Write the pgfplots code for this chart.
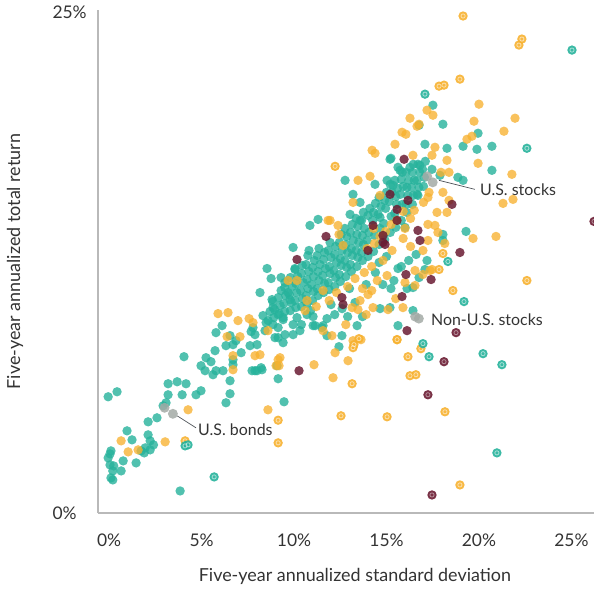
\documentclass[border=0pt]{standalone}
\usepackage{pgfplots}
\pgfplotsset{compat=1.18}
\usepackage{pgfplotstable}
\usepackage{fontspec}
\setmainfont{Lato}
\definecolor{tealc}{RGB}{38,178,155}
\definecolor{orangec}{RGB}{247,177,47}
\definecolor{maroonc}{RGB}{106,27,50}
\definecolor{grayc}{RGB}{163,170,166}
\definecolor{axisc}{RGB}{185,185,185}
\definecolor{textc}{RGB}{51,51,51}
\definecolor{linec}{RGB}{80,85,90}

\pgfplotstableread{
x y
-0.05 5.8
0.43 6.05
3.19 6.45
3.68 6.55
4.16 6.45
3.95 5.9
3.19 5.9
3.08 5.5
2.92 5.35
4.97 6.1
4.70 5.9
6.54 6.6
6.54 5.95
6.32 5.5
9.46 5.55
9.14 6.7
2.59 4.75
2.11 4.55
0.97 4.1
1.24 3.65
2.11 3.9
2.22 3.6
1.95 3.25
2.22 3.15
1.73 3.1
0.10 3.1
-0.05 2.75
0.05 2.4
0.20 2.1
0.10 1.75
0.65 2.1
0.76 2.6
1.46 2.5
3.84 1.1
0.20 1.65
0.25 2.35
0.05 2.95
1.90 3.0
2.40 3.4
4.05 7.8
5.24 7.75
5.51 7.55
4.97 7.35
5.19 7.1
5.73 8.1
5.78 7.1
6.16 7.1
5.62 6.9
5.78 9.0
6.11 9.35
6.32 8.35
6.54 8.85
6.70 8.4
6.70 7.4
7.14 8.0
6.86 8.6
7.62 8.35
7.68 9.05
7.78 9.25
7.89 7.1
8.22 7.25
8.16 11.0
8.54 12.2
8.76 11.7
8.81 10.65
8.32 9.85
8.49 9.5
8.86 10.25
9.14 9.9
9.41 9.65
9.30 11.75
9.51 11.5
9.68 11.0
9.78 10.65
9.95 13.25
10.05 12.15
9.14 8.75
8.97 8.75
6.70 7.65
7.73 7.1
8.27 7.15
9.08 7.35
8.00 7.1
8.43 9.1
7.89 8.9
8.00 8.4
8.86 9.4
9.14 9.25
9.41 9.75
9.95 8.9
10.32 9.1
10.16 9.75
10.70 9.9
11.14 9.35
11.51 9.25
11.78 9.7
11.03 9.8
11.03 9.35
11.57 9.35
11.78 8.85
9.95 9.4
9.51 8.9
9.41 8.5
13.41 9.35
12.59 8.85
12.43 8.3
10.86 14.35
11.30 14.65
13.03 14.9
13.57 14.6
12.76 16.6
14.38 16.4
15.03 16.6
15.35 16.35
13.19 15.9
13.57 15.5
16.65 15.9
14.65 14.75
16.00 14.25
18.05 13.6
10.81 13.1
19.30 14.05
18.05 13.9
17.08 12.15
16.76 11.75
16.43 11.25
15.24 11.2
15.19 10.25
16.43 10.1
14.65 10.2
15.62 9.35
15.62 12.2
17.19 12.6
16.11 11.2
17.51 20.35
18.05 19.4
16.76 19.35
19.95 18.95
19.14 18.3
19.89 18.15
20.70 18.3
20.70 17.1
18.27 18.2
17.08 18.4
15.24 17.7
15.62 17.25
15.73 17.1
16.27 17.25
16.81 17.35
17.46 17.15
17.89 16.85
18.86 16.75
19.14 16.6
15.19 17.65
13.30 10.50
13.90 11.40
14.40 12.00
14.80 11.40
15.40 11.60
15.80 12.30
16.20 12.60
16.60 12.90
15.00 12.80
14.60 12.50
13.00 11.20
12.60 10.20
12.20 9.90
12.90 9.80
13.70 9.80
10.40 9.40
10.90 10.10
12.00 10.40
8.6 9.6
8.7 10.05
8.9 9.75
8.95 10.15
8.85 10.55
9.2 9.95
9.25 10.35
9.15 10.75
9.3 11.1
9.5 10.05
9.45 10.45
9.55 10.85
9.5 11.25
9.8 10.1
9.85 10.5
9.75 10.9
9.9 11.3
9.8 11.75
10.1 10.25
10.05 10.6
10.15 11.0
10.1 11.45
10.2 11.8
10.05 12.2
10.4 10.3
10.45 10.7
10.35 11.1
10.5 11.5
10.4 11.95
10.45 12.35
10.7 10.45
10.65 10.85
10.75 11.2
10.7 11.65
10.8 12.05
10.65 12.4
10.75 12.85
11.0 10.6
11.05 11.05
10.95 11.4
11.05 11.8
11.0 12.25
11.1 12.6
11.3 10.85
11.25 11.2
11.35 11.6
11.3 12.05
11.4 12.4
11.25 12.85
11.35 13.2
11.6 11.0
11.65 11.45
11.55 11.85
11.7 12.2
11.6 12.65
11.65 13.0
11.9 11.15
11.85 11.5
11.95 11.95
11.9 12.3
12.0 12.75
11.85 13.1
11.95 13.5
12.2 11.3
12.25 11.75
12.15 12.1
12.3 12.5
12.2 12.9
12.25 13.3
12.5 11.55
12.45 11.9
12.55 12.35
12.5 12.7
12.6 13.1
12.45 13.5
12.55 13.9
12.8 11.8
12.85 12.25
12.75 12.6
12.9 13.0
12.8 13.4
12.85 13.8
12.75 14.2
13.1 12.05
13.05 12.4
13.15 12.85
13.1 13.2
13.2 13.6
13.05 14.0
13.15 14.4
13.4 12.3
13.45 12.75
13.35 13.1
13.5 13.5
13.4 13.9
13.45 14.3
13.35 14.7
13.7 12.6
13.65 13.0
13.75 13.4
13.7 13.85
13.8 14.2
13.65 14.6
13.75 15.0
14.0 12.8
13.95 13.6
14.05 14.0
14.0 14.85
14.1 15.2
14.3 13.05
14.35 13.85
14.25 14.6
14.3 15.0
14.4 15.45
14.6 13.4
14.65 14.2
14.55 14.9
14.7 15.3
14.6 15.75
14.9 13.65
14.85 14.45
14.95 15.2
14.9 15.6
15.0 16.0
15.2 14.0
15.25 14.8
15.15 15.55
15.3 16.0
15.2 16.4
15.5 14.25
15.45 14.95
15.55 15.4
15.5 15.8
15.6 16.2
15.45 16.6
15.8 14.6
15.85 15.4
15.75 15.9
15.9 16.3
15.8 16.65
15.85 17.0
16.1 15.0
16.05 15.4
16.15 15.85
16.1 16.25
16.2 16.6
16.05 17.0
16.4 15.4
16.45 15.85
16.35 16.25
16.5 16.6
16.4 17.0
16.45 17.4
16.7 15.85
16.75 16.25
16.65 16.6
16.8 17.0
16.7 17.4
17.0 16.3
17.05 16.75
16.95 17.15
17.1 17.55
}\tealdata

\pgfplotstableread{
x y
4.27 5.15
3.03 3.55
0.65 3.6
1.03 3.05
1.57 3.15
8.59 5.15
9.19 7.35
11.08 7.4
9.14 7.65
5.89 9.95
6.43 10.0
6.97 9.6
7.57 9.7
7.78 9.5
7.08 8.8
6.38 8.8
6.70 7.85
6.70 7.15
7.89 7.85
8.16 7.9
8.59 9.1
9.24 7.75
9.03 7.35
9.68 11.6
11.84 14.6
17.19 20.1
17.51 19.85
16.27 19.7
16.65 19.3
16.76 19.4
15.84 19.0
16.05 18.9
15.46 18.4
17.62 18.25
17.46 17.85
14.22 18.1
14.38 17.95
16.43 17.85
17.95 17.0
13.46 16.6
14.11 16.8
14.65 15.85
13.19 15.5
17.24 15.75
18.05 16.0
17.73 15.0
17.24 14.4
11.95 14.6
12.38 14.35
12.43 13.9
12.65 13.35
17.24 13.6
17.78 14.0
20.00 20.4
19.73 19.55
21.95 19.7
21.35 19.05
19.35 18.65
19.62 18.8
19.95 17.45
21.78 16.9
18.27 17.6
18.38 17.0
21.30 15.45
21.84 15.65
19.68 13.7
20.92 13.8
18.38 15.6
18.27 15.0
17.62 14.35
16.97 13.1
17.35 12.1
15.89 10.25
15.08 10.15
14.81 12.6
15.03 11.85
16.54 12.1
16.54 11.35
17.46 12.15
18.15 13.45
16.97 11.9
14.27 10.25
11.57 9.1
10.16 11.6
11.57 11.1
10.70 10.6
13.14 10.25
13.46 10.15
13.57 10.6
12.22 8.0
12.92 7.6
12.11 6.75
12.05 8.85
13.19 8.6
13.62 8.65
15.57 8.65
13.95 13.2
14.35 13.45
14.30 14.2
14.65 13.8
14.95 14.05
15.25 14.4
15.55 14.6
15.90 15.05
16.30 14.7
16.00 14.2
16.50 15.1
17.00 15.5
17.30 16.0
10.60 10.1
11.20 10.3
11.90 10.6
12.30 11.0
12.90 11.3
13.30 11.7
13.80 12.0
14.20 12.3
13.70 11.2
14.50 11.6
14.00 10.9
14.20 11.10
15.50 10.70
16.00 11.50
16.30 13.30
15.30 13.10
15.90 13.70
13.90 9.90
12.80 9.40
}\orangedata

\pgfplotstableread{
x y
10.27 7.1
11.73 13.8
10.16 12.65
15.95 17.65
18.54 15.4
15.19 15.9
16.16 15.6
15.57 15.15
14.27 14.35
15.57 14.6
16.70 14.1
16.81 13.6
14.81 13.5
14.00 13.1
18.97 13.0
14.81 13.85
16.05 11.9
15.84 10.8
17.41 11.65
12.59 10.75
12.65 10.4
16.11 9.1
14.92 13.4
}\maroondata

\pgfplotstableread{
x y
19.14 24.8
22.32 23.65
22.16 23.35
18.97 21.65
17.84 21.3
18.11 21.35
12.22 17.3
22.59 11.6
18.59 11.1
17.84 12.15
18.05 12.95
13.51 8.7
13.24 8.4
13.19 8.25
15.57 8.65
16.16 7.8
16.86 8.2
16.27 6.85
16.59 6.9
13.14 6.45
12.54 4.85
15.03 4.8
18.16 5.05
18.97 1.4
9.14 4.63
9.14 3.5
4.11 3.6
}\orangering

\pgfplotstableread{
x y
4.11 3.35
4.27 3.4
5.68 1.8
25.03 23.1
22.59 18.2
17.08 20.9
18.32 12.55
19.19 10.55
16.97 8.45
17.30 7.8
20.22 7.95
21.24 7.4
20.97 3.0
}\tealring

\pgfplotstableread{
x y
26.22 14.55
18.76 9.0
18.11 7.55
17.24 5.9
17.46 0.9
}\maroonring

\pgfplotstableread{
x y
17.20 16.80
17.50 16.50
16.55 9.80
16.75 9.70
3.00 5.25
3.45 4.95
}\graydata

\begin{document}
\begin{tikzpicture}
\begin{axis}[
  scale only axis,
  width=496bp, height=503bp,
  xmin=-0.6, xmax=26.22,
  ymin=0, ymax=25.1,
  enlargelimits=false,
  axis lines=left,
  axis line style={-, draw=axisc, line width=1.1pt},
  major tick length=0pt,
  xtick={0,5,10,15,20,25},
  xticklabels={0\%,5\%,10\%,15\%,20\%,25\%},
  ytick={0,25},
  yticklabels={0\%,25\%},
  xticklabel style={font=\fontsize{17.5}{20}\selectfont, text=textc, anchor=base, yshift=-33bp},
  yticklabel style={font=\fontsize{17.5}{20}\selectfont, text=textc, anchor=west, xshift=-49bp},
  xlabel={Five-year annualized standard deviation},
  ylabel={Five-year annualized total return},
  xlabel style={font=\fontsize{18}{21}\selectfont, text=textc, at={(axis description cs:0.518,-0.127)}, anchor=center},
  ylabel style={font=\fontsize{18}{21}\selectfont, text=textc, at={(axis description cs:-0.167,0.5)}, anchor=center, rotate=0},
  every axis plot/.append style={only marks, mark=*, mark size=4.7pt},
]
% teal
\addplot[color=tealc, mark options={fill opacity=0.8, draw opacity=0}] table {\tealdata};
% orange
\addplot[color=orangec, mark options={fill opacity=0.78, draw opacity=0}] table {\orangedata};
% maroon
\addplot[color=maroonc, mark options={fill opacity=0.85, draw opacity=0}] table {\maroondata};
% ringed outliers
\addplot[color=orangec, mark options={fill opacity=0.9, draw opacity=0}] table {\orangering};
\addplot[mark=o, mark size=2.1pt, color=white, mark options={draw opacity=0.55}, line width=0.8pt] table {\orangering};
\addplot[color=tealc, mark options={fill opacity=0.9, draw opacity=0}] table {\tealring};
\addplot[mark=o, mark size=2.1pt, color=white, mark options={draw opacity=0.55}, line width=0.8pt] table {\tealring};
\addplot[color=maroonc, mark options={fill opacity=0.9, draw opacity=0}] table {\maroonring};
\addplot[mark=o, mark size=2.1pt, color=white, mark options={draw opacity=0.45}, line width=0.8pt] table {\maroonring};
% gray reference points
\addplot[color=grayc, mark size=5pt, mark options={fill opacity=0.85, draw opacity=0}] table {\graydata};
% annotations
\draw[linec, line width=0.7pt] (axis cs:17.84,16.6) -- (axis cs:19.78,16.15);
\draw[linec, line width=0.7pt] (axis cs:3.68,4.85) -- (axis cs:4.70,4.25);
\node[anchor=west, inner sep=0pt, font=\fontsize{16}{19}\selectfont, text=textc] at (axis cs:20.05,16.15) {U.S. stocks};
\node[anchor=west, inner sep=0pt, font=\fontsize{16}{19}\selectfont, text=textc] at (axis cs:17.40,9.65) {Non-U.S. stocks};
\node[anchor=west, inner sep=0pt, font=\fontsize{16}{19}\selectfont, text=textc] at (axis cs:4.81,4.15) {U.S. bonds};
\end{axis}
\pgfresetboundingbox
\path (current axis.south west) ++(-98bp,-77bp) rectangle ([yshift=10bp]current axis.north east);
\end{tikzpicture}
\end{document}
